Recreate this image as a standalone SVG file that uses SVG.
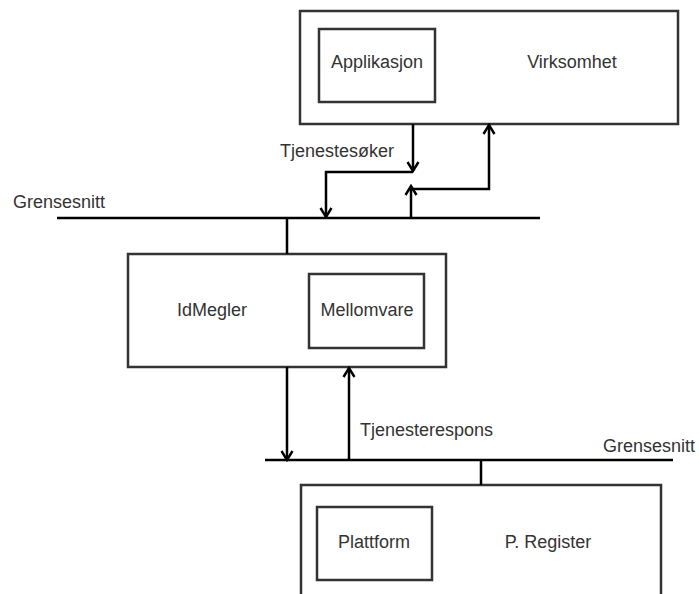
<svg xmlns="http://www.w3.org/2000/svg" width="699" height="594" viewBox="0 0 699 594">
  <style>
    .box { fill: #ffffff; stroke: #333333; stroke-width: 2.5; }
    .wire { fill: none; stroke: #000000; stroke-width: 2.5; }
    .lbl { font-family: "Liberation Sans", Arial, sans-serif; font-size: 18px; fill: #333333; }
    .mid { text-anchor: middle; }
  </style>
  <defs>
    <marker id="open-arrow" markerUnits="userSpaceOnUse" viewBox="0 0 14 14" refX="12" refY="7" markerWidth="14" markerHeight="14" orient="auto">
      <path d="M3,1.5 L12,7 L3,12.5" fill="none" stroke="#000000" stroke-width="2.4"/>
    </marker>
  </defs>
  <rect width="699" height="594" fill="#ffffff"/>

  <!-- Virksomhet with Applikasjon -->
  <g id="virksomhet">
    <rect class="box" x="300" y="11" width="378" height="113"/>
    <text class="lbl mid" x="572" y="68">Virksomhet</text>
  </g>
  <g id="applikasjon">
    <rect class="box" x="319" y="29" width="116" height="73"/>
    <text class="lbl mid" x="377" y="68">Applikasjon</text>
  </g>

  <!-- IdMegler with Mellomvare -->
  <g id="idmegler">
    <rect class="box" x="128" y="254" width="318" height="113"/>
    <text class="lbl mid" x="212" y="316">IdMegler</text>
  </g>
  <g id="mellomvare">
    <rect class="box" x="309" y="274" width="115" height="74"/>
    <text class="lbl mid" x="367" y="316">Mellomvare</text>
  </g>

  <!-- P. Register with Plattform -->
  <g id="pregister">
    <rect class="box" x="301" y="485" width="360" height="120"/>
    <text class="lbl mid" x="548" y="548">P. Register</text>
  </g>
  <g id="plattform">
    <rect class="box" x="317" y="507" width="115" height="73"/>
    <text class="lbl mid" x="374" y="548">Plattform</text>
  </g>

  <!-- interface lines and message flows -->
  <g id="connectors">
    <path class="wire" d="M57,218 H540"/>
    <path class="wire" d="M265,460 H673"/>
    <path class="wire" d="M287,218 V254"/>
    <path class="wire" d="M481,460 V485"/>

    <path class="wire" d="M413,124 V171" marker-end="url(#open-arrow)"/>
    <path class="wire" d="M413,172 H326 V217" marker-end="url(#open-arrow)"/>
    <path class="wire" d="M411,217 V186" marker-end="url(#open-arrow)"/>
    <path class="wire" d="M411,189 H489 V125" marker-end="url(#open-arrow)"/>

    <path class="wire" d="M287,367 V460" marker-end="url(#open-arrow)"/>
    <path class="wire" d="M349,460 V368" marker-end="url(#open-arrow)"/>
  </g>

  <g id="labels">
    <text class="lbl" x="280" y="157">Tjenestesøker</text>
    <text class="lbl" x="13" y="208">Grensesnitt</text>
    <text class="lbl" x="360" y="436">Tjenesterespons</text>
    <text class="lbl" x="603" y="452">Grensesnitt</text>
  </g>
</svg>
